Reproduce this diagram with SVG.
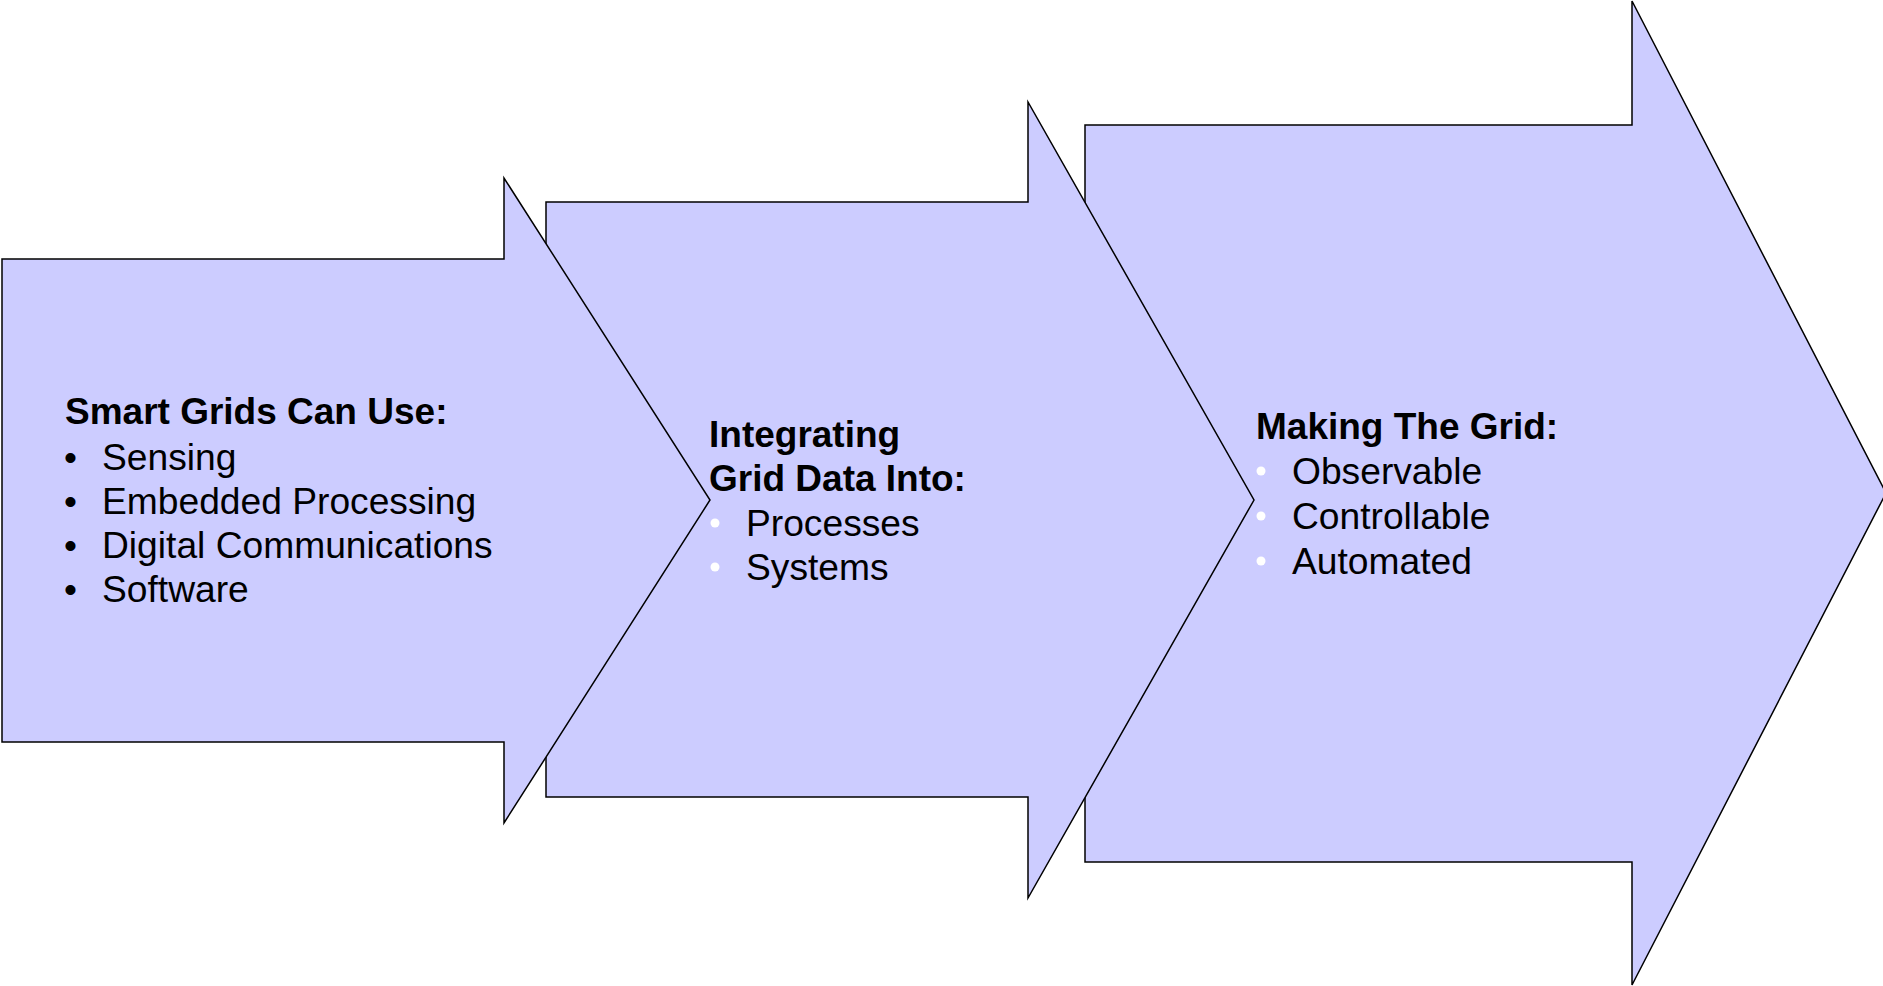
<svg xmlns="http://www.w3.org/2000/svg" width="1883" height="986" viewBox="0 0 1883 986">
  <style>
    .arrow { fill: #CCCCFF; stroke: #000000; stroke-width: 1.5; stroke-linejoin: miter; }
    .head { font-family: "Liberation Sans", Arial, sans-serif; font-size: 37px; font-weight: bold; fill: #000000; }
    .item { font-family: "Liberation Sans", Arial, sans-serif; font-size: 37.2px; fill: #000000; }
    .dot-black { font-family: "Liberation Sans", Arial, sans-serif; font-size: 37px; fill: #000000; }
    .dot-white { fill: #FFFFFF; }
  </style>

  <!-- Back to front: the third step sits behind the second, the second behind the first -->
  <g id="step-3">
    <polygon class="arrow" points="1085,125 1632,125 1632,1 1886,493 1632,985 1632,862 1085,862"/>
    <text class="head" x="1256" y="439">Making The Grid:</text>
    <circle class="dot-white" cx="1261" cy="471" r="4.5"/>
    <circle class="dot-white" cx="1261" cy="516" r="4.5"/>
    <circle class="dot-white" cx="1261" cy="561" r="4.5"/>
    <text class="item" x="1292" y="484">Observable</text>
    <text class="item" x="1292" y="529">Controllable</text>
    <text class="item" x="1292" y="574">Automated</text>
  </g>

  <g id="step-2">
    <polygon class="arrow" points="546,202 1028,202 1028,102 1254,500 1028,898 1028,797 546,797"/>
    <text class="head" x="709" y="447">Integrating</text>
    <text class="head" x="709" y="491">Grid Data Into:</text>
    <circle class="dot-white" cx="715" cy="523" r="4.5"/>
    <circle class="dot-white" cx="715" cy="567" r="4.5"/>
    <text class="item" x="746" y="536">Processes</text>
    <text class="item" x="746" y="580">Systems</text>
  </g>

  <g id="step-1">
    <polygon class="arrow" points="2,259 504,259 504,178 710,500 504,823 504,742 2,742"/>
    <text class="head" x="65" y="424">Smart Grids Can Use:</text>
    <text class="dot-black" x="64" y="470">•</text>
    <text class="dot-black" x="64" y="514">•</text>
    <text class="dot-black" x="64" y="558">•</text>
    <text class="dot-black" x="64" y="602">•</text>
    <text class="item" x="102" y="470">Sensing</text>
    <text class="item" x="102" y="514">Embedded Processing</text>
    <text class="item" x="102" y="558">Digital Communications</text>
    <text class="item" x="102" y="602">Software</text>
  </g>

  <g id="connectors"/>
</svg>
